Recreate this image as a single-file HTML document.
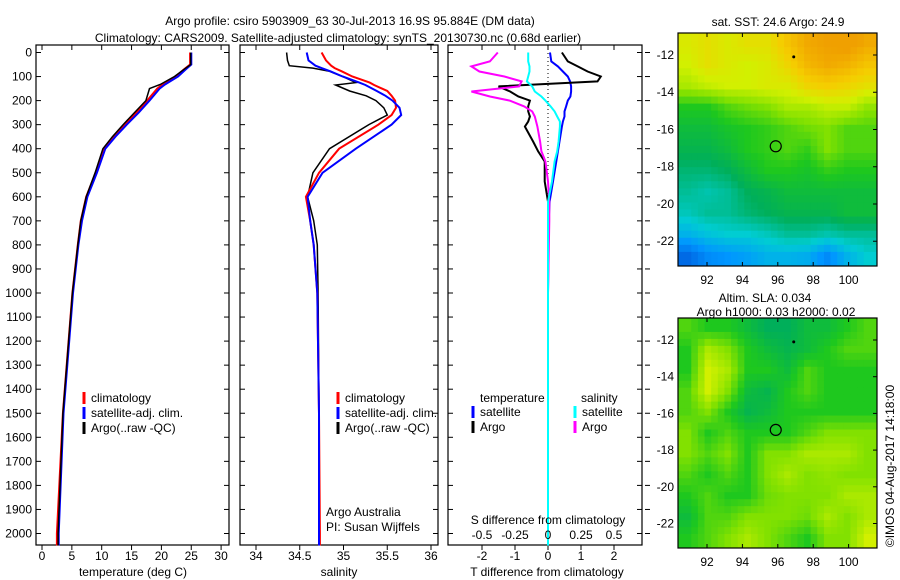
<!DOCTYPE html>
<html><head><meta charset="utf-8">
<style>
body{margin:0;background:#fff;}
svg{display:block;font-family:"Liberation Sans",sans-serif;}
text{font-size:12px;fill:#000;}
</style></head>
<body>
<svg id="c" width="900" height="580"></svg>
<script>
// ---- data ----
const depthT = [0,50,70,100,133,150,200,250,300,350,400,500,600,700,800,1000,1500,2000,2050];
const tempClim = [24.8,24.8,23.8,22.4,20.2,19.3,17.6,15.8,13.9,12.0,10.4,9.0,7.4,6.5,6.0,5.1,3.5,2.5,2.5];
const tempSat  = [25.0,25.0,24.1,22.8,20.6,19.7,18.0,16.2,14.2,12.3,10.6,9.2,7.6,6.7,6.1,5.2,3.6,2.8,2.8];
const tempArgo = [24.9,24.9,23.8,22.2,19.8,18.0,17.4,15.5,13.6,11.8,10.2,8.9,7.4,6.5,6.0,5.1,3.5,2.7,2.7];
const depthS = [0,33,55,65,78,100,125,135,160,180,200,230,260,300,400,500,600,700,800,1000,1500,2000,2050];
const salClim = [34.75,34.8,34.86,34.9,34.98,35.1,35.3,35.35,35.5,35.55,35.59,35.6,35.55,35.4,34.95,34.72,34.57,34.62,34.66,34.7,34.72,34.73,34.73];
const salSat  = [34.58,34.6,34.68,34.75,34.85,34.99,35.18,35.25,35.38,35.48,35.56,35.64,35.66,35.55,35.14,34.76,34.59,34.62,34.66,34.7,34.72,34.72,34.72];
const salArgo = [34.35,34.36,34.38,34.65,34.84,34.99,35.14,34.91,35.07,35.26,35.37,35.46,35.5,35.29,34.84,34.65,34.59,34.66,34.7,34.71,34.72,34.72,34.72];
const depthD = [0,37,58,79,100,120,141,162,183,200,224,245,266,287,308,370,411,453,536,620,700,1000,1500,2050];
const dTsat  = [0.06,0.1,0.3,0.45,0.6,0.67,0.7,0.7,0.68,0.6,0.55,0.5,0.5,0.45,0.42,0.35,0.3,0.25,0.15,0.05,0.02,0,0,0];
const dTargo = [0.42,0.6,0.9,1.2,1.6,1.5,-1.5,-1.15,-0.9,-0.55,-0.6,-0.6,-0.55,-0.6,-0.7,-0.45,-0.3,-0.1,-0.1,0,0,0,0,0];
const dSsat  = [-0.15,-0.15,-0.14,-0.14,-0.15,-0.16,-0.12,-0.1,-0.05,-0.02,0.02,0.05,0.07,0.09,0.09,0.08,0.07,0.05,0.03,0.0,0,0,0,0];
const dSargo = [-0.38,-0.44,-0.58,-0.52,-0.33,-0.2,-0.22,-0.58,-0.44,-0.29,-0.18,-0.12,-0.1,-0.09,-0.08,-0.06,-0.05,-0.02,0,0.01,0.01,0,0,0];
const sstGrid = [
[.72,.75,.72,.75,.75,.82,.88,.9,.92,.88],
[.7,.75,.72,.7,.72,.78,.85,.88,.86,.82],
[.65,.68,.7,.7,.72,.72,.78,.8,.78,.75],
[.5,.5,.55,.58,.6,.65,.65,.68,.68,.62],
[.45,.45,.48,.5,.52,.55,.58,.6,.55,.55],
[.42,.42,.45,.5,.52,.55,.52,.6,.55,.55],
[.38,.38,.4,.45,.5,.5,.48,.52,.5,.5],
[.35,.33,.35,.4,.42,.45,.45,.45,.45,.45],
[.32,.35,.35,.38,.4,.42,.42,.42,.45,.45],
[.25,.28,.3,.3,.32,.35,.35,.33,.35,.35],
[.12,.18,.2,.22,.25,.25,.24,.18,.25,.3]];
const slaGrid = [
[.55,.5,.5,.45,.4,.4,.45,.45,.5,.55],
[.5,.65,.6,.5,.45,.42,.45,.5,.55,.55],
[.5,.7,.65,.5,.5,.45,.55,.5,.5,.5],
[.55,.7,.6,.45,.42,.5,.55,.5,.5,.5],
[.55,.6,.5,.42,.45,.5,.5,.5,.5,.5],
[.6,.5,.55,.5,.5,.5,.55,.6,.6,.6],
[.6,.55,.6,.5,.6,.6,.65,.65,.65,.6],
[.55,.5,.55,.5,.6,.65,.6,.62,.6,.6],
[.5,.55,.5,.5,.58,.6,.6,.6,.65,.65],
[.45,.55,.55,.6,.6,.6,.58,.65,.6,.65],
[.5,.55,.6,.65,.6,.55,.5,.6,.6,.7]];
const depthTicks = [0,100,200,300,400,500,600,700,800,900,1000,1100,1200,1300,1400,1500,1600,1700,1800,1900,2000];
const tempTicks = [0,5,10,15,20,25,30];
const salTicks = [34,34.5,35,35.5,36];
const dTTicks = [-2,-1,0,1,2];
const dSTickLabels = ["-0.5","-0.25","0","0.25","0.5"];
const dSTicks = [-0.5,-0.25,0,0.25,0.5];
const lonTicks = [92,94,96,98,100];
const latTicks = [-12,-14,-16,-18,-20,-22];

// ---- drawing ----
const svg = document.getElementById('c');
const NS = 'http://www.w3.org/2000/svg';
function el(tag, attrs, parent){const e=document.createElementNS(NS,tag);for(const k in attrs)e.setAttribute(k,attrs[k]);(parent||svg).appendChild(e);return e;}
function txt(x,y,s,anchor,parent){const t=el('text',{x:x,y:y,'text-anchor':anchor||'middle'},parent);t.textContent=s;return t;}
const yD = d => 52.5 + d*0.2405;
const TOP=45, BOT=545;

function frame(x0,x1,name){
  const g=el('g',{});
  
  
  el('rect',{x:x0,y:TOP,width:x1-x0,height:BOT-TOP,fill:'#fff',stroke:'#000','stroke-width':1.2},g);
  return g;
}
function depthAxis(g,x0,x1,labels,rightOut){
  depthTicks.forEach(d=>{
    const y=yD(d);
    el('line',{x1:x0,y1:y,x2:x0+5,y2:y,stroke:'#000'},g);
    el('line',{x1:x1,y1:y,x2:x1-5,y2:y,stroke:'#000'},g);
    if(rightOut) el('line',{x1:x1+3,y1:y,x2:x1+8,y2:y,stroke:'#000'},g);
    if(labels) txt(x0-4,y+4,String(d),'end',g);
  });
}
function xAxis(g,x0,x1,ticks,labels,sx,yLab){
  ticks.forEach((v,i)=>{
    const x=sx(v);
    el('line',{x1:x,y1:BOT,x2:x,y2:BOT+5,stroke:'#000'},g);
    el('line',{x1:x,y1:TOP,x2:x,y2:TOP+5,stroke:'#000'},g);
    txt(x,yLab,labels[i],'middle',g);
  });
}
function line(g,xs,ds,sx,color,w,name){
  const pts=xs.map((v,i)=>sx(v).toFixed(1)+','+yD(ds[i]).toFixed(1)).join(' ');
  const p=el('polyline',{points:pts,fill:'none',stroke:color,'stroke-width':w||2},g);
  
  
}

// Title
const t1=txt(350,25,'Argo profile: csiro 5903909_63 30-Jul-2013 16.9S 95.884E (DM data)');


const t2=txt(338,42,'Climatology: CARS2009. Satellite-adjusted climatology: synTS_20130730.nc (0.68d earlier)');



// Panel 1 temperature
const sxT = v => 42 + v*5.97;
const g1=frame(36,229,'temperature-panel');
depthAxis(g1,36,229,true,false);
xAxis(g1,36,229,tempTicks,tempTicks.map(String),sxT,560);
txt(133,576,'temperature (deg C)','middle',g1);
line(g1,tempClim,depthT,sxT,'#f00',2,'temp-climatology-line');
line(g1,tempSat,depthT,sxT,'#00f',2,'temp-satellite-line');
line(g1,tempArgo,depthT,sxT,'#000',1.5,'temp-argo-line');
function legend(g,x,y,items){
  items.forEach((it,i)=>{
    el('line',{x1:x,y1:y+i*15-10,x2:x,y2:y+i*15+2,stroke:it[1],'stroke-width':3},g);
    txt(x+7,y+i*15,it[0],'start',g);
  });
}
legend(g1,84,402,[['climatology','#f00'],['satellite-adj. clim.','#00f'],['Argo(..raw -QC)','#000']]);

// Panel 2 salinity
const sxS = v => 256 + (v-34)*87.5;
const g2=frame(240,438,'salinity-panel');
depthAxis(g2,240,438,false,false);
xAxis(g2,240,438,salTicks,salTicks.map(String),sxS,560);
txt(339,576,'salinity','middle',g2);
line(g2,salArgo,depthS,sxS,'#000',1.5,'sal-argo-line');
line(g2,salClim,depthS,sxS,'#f00',2,'sal-climatology-line');
line(g2,salSat,depthS,sxS,'#00f',2,'sal-satellite-line');
legend(g2,338,402,[['climatology','#f00'],['satellite-adj. clim.','#00f'],['Argo(..raw -QC)','#000']]);
txt(326,516,'Argo Australia','start',g2);
txt(326,531,'PI: Susan Wijffels','start',g2);

// Panel 3 differences
const sxD = v => 548 + v*33;
const sxDS = v => 548 + v*132;
const g3=frame(448,642,'difference-panel');
depthAxis(g3,448,642,false,true);
xAxis(g3,448,642,dTTicks,dTTicks.map(String),sxD,560);
txt(547,576,'T difference from climatology','middle',g3);
el('line',{x1:548,y1:TOP,x2:548,y2:BOT,stroke:'#000','stroke-dasharray':'1,3'},g3);
line(g3,dTsat,depthD,sxD,'#00f',2,'tdiff-satellite-line');
line(g3,dTargo,depthD,sxD,'#000',2,'tdiff-argo-line');
line(g3,dSargo,depthD,sxDS,'#f0f',2,'sdiff-argo-line');
line(g3,dSsat,depthD,sxDS,'#0ff',2,'sdiff-satellite-line');
txt(480,402,'temperature','start',g3);
txt(581,402,'salinity','start',g3);
legend(g3,473,416,[['satellite','#00f'],['Argo','#000']]);
legend(g3,575,416,[['satellite','#0ff'],['Argo','#f0f']]);
txt(548,524,'S difference from climatology','middle',g3);
dSTicks.forEach((v,i)=>txt(sxDS(v),539,dSTickLabels[i],'middle',g3));

// Maps
function cmap(v){
  const stops=[[0,[0,40,190]],[.2,[0,150,255]],[.3,[0,205,210]],[.4,[0,175,90]],[.5,[30,200,30]],[.6,[130,225,0]],[.7,[210,240,0]],[.8,[245,205,0]],[.9,[240,160,0]]];
  for(let i=1;i<stops.length;i++){ if(v<=stops[i][0]){const a=stops[i-1],b=stops[i],f=(v-a[0])/(b[0]-a[0]);return 'rgb('+a[1].map((c,k)=>Math.round(c+(b[1][k]-c)*f)).join(',')+')';}}
  return 'rgb(240,160,0)';
}
function sample(grid,fr,fc){
  const rows=grid.length, cols=grid[0].length;
  const r=Math.max(0,Math.min(rows-1,fr)), c=Math.max(0,Math.min(cols-1,fc));
  const r0=Math.floor(r), c0=Math.floor(c), r1=Math.min(rows-1,r0+1), c1=Math.min(cols-1,c0+1);
  const a=r-r0, b=c-c0;
  return grid[r0][c0]*(1-a)*(1-b)+grid[r0][c1]*(1-a)*b+grid[r1][c0]*a*(1-b)+grid[r1][c1]*a*b;
}
function drawMap(x0,y0,w,h,grid,name,lonLabels){
  const g=el('g',{});
  
  
  const rows=grid.length, cols=grid[0].length, N=3;
  const cw=w/(cols*N), ch=h/(rows*N);
  for(let r=0;r<rows*N;r++)for(let c=0;c<cols*N;c++){
    const v=sample(grid,(r+0.5)/N-0.5,(c+0.5)/N-0.5);
    el('rect',{x:x0+c*cw,y:y0+r*ch,width:cw+0.4,height:ch+0.4,fill:cmap(v)},g);
  }
  el('rect',{x:x0,y:y0,width:w,height:h,fill:'none',stroke:'#000','stroke-width':1.2},g);
  const sxL = lon => 707 + (lon-92)*17.7;
  const syL = lat => y0 + 22 + (-12-lat)*(h-30)/10.9;
  lonTicks.forEach(l=>{const x=sxL(l);el('line',{x1:x,y1:y0,x2:x,y2:y0+4,stroke:'#000'},g);el('line',{x1:x,y1:y0+h,x2:x,y2:y0+h-4,stroke:'#000'},g);if(lonLabels)txt(x,y0+h+18,String(l),'middle',g);});
  latTicks.forEach(l=>{const y=syL(l);el('line',{x1:x0+w,y1:y,x2:x0+w-4,y2:y,stroke:'#000'},g);txt(x0-4,y+4,String(l),'end',g);});
  const pos=el('circle',{cx:sxL(95.884),cy:syL(-16.9),r:5.5,fill:'none',stroke:'#000','stroke-width':1.2},g);
  
  
  el('circle',{cx:sxL(96.9),cy:syL(-12.1),r:1.5,fill:'#000'},g);
}
txt(778,26,'sat. SST: 24.6 Argo: 24.9');
drawMap(678,33,199,233,sstGrid,'sst-map',true);
txt(765,302,'Altim. SLA: 0.034');
txt(776,316,'Argo h1000: 0.03 h2000: 0.02');
drawMap(678,318,199,230,slaGrid,'sla-map',true);
const st=el('text',{x:0,y:0,transform:'translate(894,466) rotate(-90)','text-anchor':'middle'});
st.textContent='©IMOS 04-Aug-2017 14:18:00';


</script>
</body></html>
